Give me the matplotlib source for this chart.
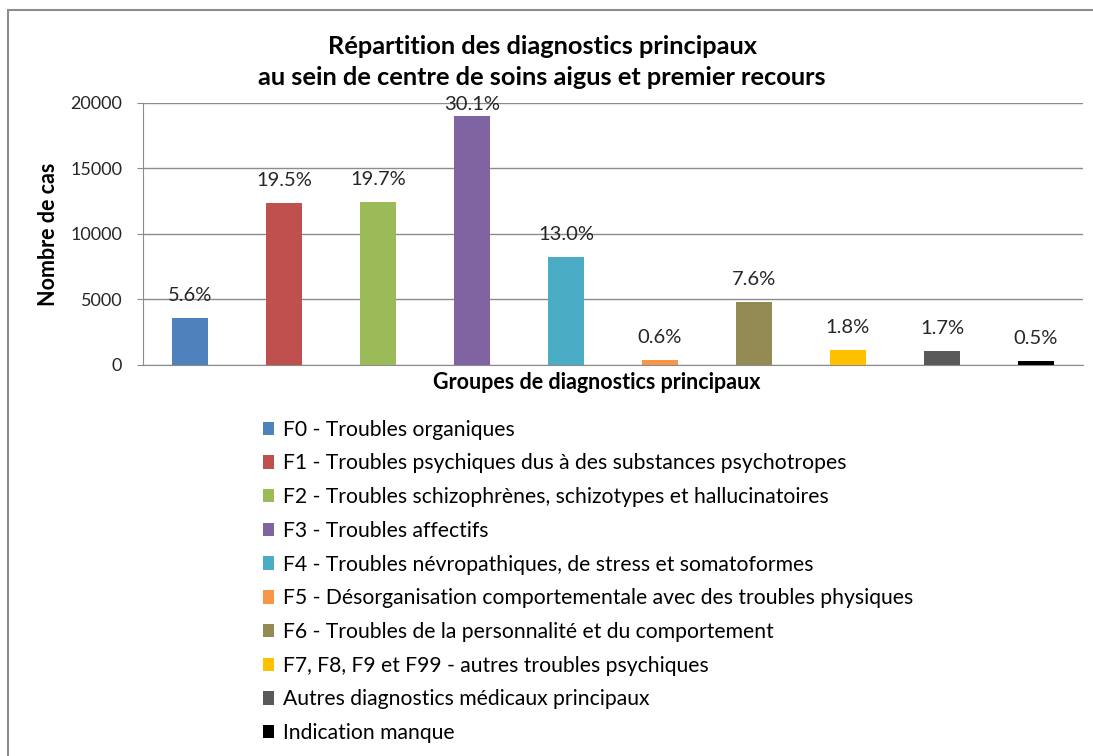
import matplotlib.pyplot as plt
from matplotlib.patches import Rectangle

plt.rcParams['font.family'] = ['Lato', 'DejaVu Sans']

categories = [
    "F0 - Troubles organiques",
    "F1 - Troubles psychiques dus à des substances psychotropes",
    "F2 - Troubles schizophrènes, schizotypes et hallucinatoires",
    "F3 - Troubles affectifs",
    "F4 - Troubles névropathiques, de stress et somatoformes",
    "F5 - Désorganisation comportementale avec des troubles physiques",
    "F6 - Troubles de la personnalité et du comportement",
    "F7, F8, F9 et F99 - autres troubles psychiques",
    "Autres diagnostics médicaux principaux",
    "Indication manque",
]
cases = [3590, 12370, 12440, 19010, 8240, 380, 4810, 1145, 1070, 305]
pct_labels = ["5.6%", "19.5%", "19.7%", "30.1%", "13.0%",
              "0.6%", "7.6%", "1.8%", "1.7%", "0.5%"]
colors = ["#4F81BD", "#C0504D", "#9BBB59", "#8064A2", "#4BACC6",
          "#F79646", "#948A54", "#FFC000", "#595959", "#000000"]

fig = plt.figure(figsize=(10.93, 7.56), dpi=100)
ax = fig.add_axes([0.1308, 0.5172, 0.86, 0.3466])

x = range(len(cases))
bars = ax.bar(x, cases, width=0.39, color=colors, zorder=3)

# labels sit above the bars, kept inside the plot area
for i, b in enumerate(bars):
    ly = min(b.get_height() + 1700, 19850)
    ax.text(b.get_x() + b.get_width() / 2, ly, pct_labels[i],
            ha='center', va='center', fontsize=14.5, color='#262626')

ax.set_xlim(-0.5, len(cases) - 0.5)
ax.set_ylim(0, 20000)
ax.set_yticks([0, 5000, 10000, 15000, 20000])
ax.set_xticks([])
ax.grid(axis='y', color='#8c8c8c', linewidth=1, zorder=0)
ax.tick_params(axis='y', length=4, color='#8c8c8c', labelsize=13,
               labelcolor='#262626', pad=11)
for s in ['top', 'right']:
    ax.spines[s].set_visible(False)
for s in ['left', 'bottom']:
    ax.spines[s].set_color('#8c8c8c')

ax.set_ylabel("Nombre de cas", fontsize=15.5, fontweight='bold', labelpad=8)
ax.set_xlabel("Groupes de diagnostics principaux", fontsize=15.5,
              fontweight='bold', labelpad=5, x=0.483)

fig.text(0.496, 0.939, "Répartition des diagnostics principaux",
         ha='center', va='center', fontsize=18.3, fontweight='bold')
fig.text(0.496, 0.897, "au sein de centre de soins aigus et premier recours",
         ha='center', va='center', fontsize=18.3, fontweight='bold')

fig.legend(bars, categories, loc='upper left',
           bbox_to_anchor=(0.233, 0.456), frameon=False,
           fontsize=15.2, handlelength=0.5, handleheight=0.6,
           handletextpad=0.45, labelspacing=0.65, borderaxespad=0)

fig.patches.append(Rectangle((0.0073, -0.1), 1.2, 1.0868, transform=fig.transFigure,
                             fill=False, edgecolor='#8c8c8c', linewidth=1.5))

fig.savefig("out.png", dpi=100)
